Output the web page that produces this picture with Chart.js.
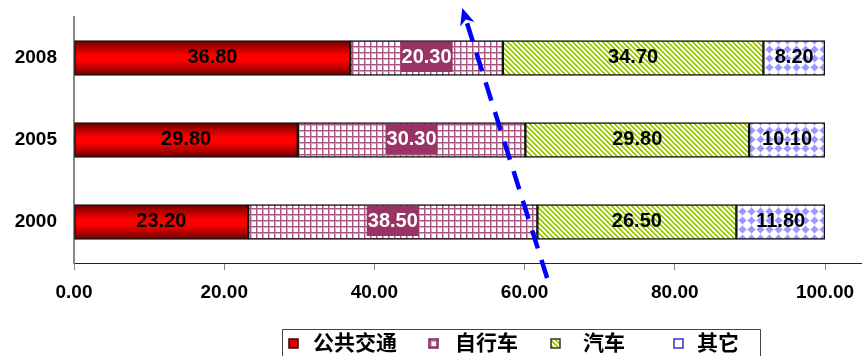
<!DOCTYPE html>
<html lang="zh">
<head>
<meta charset="UTF-8">
<title>出行方式构成</title>
<script src="https://cdn.jsdelivr.net/npm/chart.js@4"></script>
<style>
    html, body { margin: 0; padding: 0; background: #fff; }
    #wrap { width: 862px; height: 356px; position: relative; }
</style>
</head>
<body>
<div id="wrap"><canvas id="modeChart"></canvas></div>
<script>
// shares of each travel mode (%), one value per year
const years = ['2008', '2005', '2000'];
const modes = ['公共交通', '自行车', '汽车', '其它'];
const publicShare = [36.80, 29.80, 23.20];
const bikeShare = [20.30, 30.30, 38.50];
const carShare = [34.70, 29.80, 26.50];
const otherShare = [8.20, 10.10, 11.80];
const xTicks = [0, 20, 40, 60, 80, 100];

const NUM_FONT = '"Liberation Sans", Arial, sans-serif';
const CJK_FONT = '"Noto Sans CJK SC", "Noto Sans", sans-serif';
const BAR_H = 35;

// small pixel tiles used as fill patterns
function makeTile(size, paint) {
    const c = document.createElement('canvas');
    c.width = c.height = size;
    const g = c.getContext('2d');
    const img = g.createImageData(size, size);
    for (let y = 0; y < size; y++) {
        for (let x = 0; x < size; x++) {
            const rgb = paint(x, y);
            const i = (y * size + x) * 4;
            img.data[i] = rgb[0];
            img.data[i + 1] = rgb[1];
            img.data[i + 2] = rgb[2];
            img.data[i + 3] = 255;
        }
    }
    g.putImageData(img, 0, 0);
    return c;
}

const WHITE = [255, 255, 255];
const gridTile = makeTile(6, (x, y) => {
    if (x === 4 || y === 4) return [168, 86, 128];
    if (x === 5 || y === 5) return [218, 172, 196];
    return WHITE;
});
const stripeTile = makeTile(5, (x, y) => {
    const d = (x - y + 50) % 5;
    if (d < 2) return [153, 204, 0];
    if (d === 2) return [204, 229, 128];
    return WHITE;
});
const diamondTile = makeTile(9, (x, y) => {
    const d = Math.abs(x + 0.5 - 4.5) + Math.abs(y + 0.5 - 4.5);
    if (d < 4) return [153, 153, 255];
    if (d < 5) return [204, 204, 255];
    return WHITE;
});

const ctx = document.getElementById('modeChart').getContext('2d');
const gridFill = ctx.createPattern(gridTile, 'repeat');
const stripeFill = ctx.createPattern(stripeTile, 'repeat');
const diamondFill = ctx.createPattern(diamondTile, 'repeat');

// red bars get a dark-bright-dark vertical gradient
function redFill(context) {
    const chart = context.chart;
    const yScale = chart.scales.y;
    if (!yScale || context.dataIndex === undefined) return '#ff0000';
    const c = yScale.getPixelForValue(context.dataIndex);
    if (!Number.isFinite(c)) return '#ff0000';
    const g = chart.ctx.createLinearGradient(0, c - BAR_H / 2, 0, c + BAR_H / 2);
    g.addColorStop(0, '#6a0000');
    g.addColorStop(0.42, '#ff0000');
    g.addColorStop(0.58, '#ff0000');
    g.addColorStop(1, '#6a0000');
    return g;
}

// value text centred on each segment; bike values sit on a purple tag
const valueLabels = {
    id: 'valueLabels',
    afterDatasetsDraw(chart) {
        const c = chart.ctx;
        c.save();
        c.font = 'bold 20px ' + NUM_FONT;
        c.textAlign = 'center';
        c.textBaseline = 'middle';
        chart.data.datasets.forEach((ds, di) => {
            chart.getDatasetMeta(di).data.forEach((bar, i) => {
                const cx = (bar.x + bar.base) / 2;
                const cy = bar.y;
                const text = ds.data[i].toFixed(2);
                if (di === 1) {
                    const w = c.measureText(text).width + 2;
                    c.fillStyle = '#993366';
                    c.fillRect(cx - w / 2, cy - 16, w, 30);
                    c.fillStyle = '#ffffff';
                } else {
                    c.fillStyle = '#000000';
                }
                c.fillText(text, cx, cy - 1);
            });
        });
        c.restore();
    }
};

// boxed legend under the axis, plus the dashed trend arrow
const decorations = {
    id: 'decorations',
    afterDraw(chart) {
        const c = chart.ctx;
        const area = chart.chartArea;
        const xs = chart.scales.x;
        c.save();

        // axis line runs on to the edge
        c.strokeStyle = '#222';
        c.lineWidth = 1;
        c.beginPath();
        c.moveTo(area.right, area.bottom + 0.5);
        c.lineTo(chart.width, area.bottom + 0.5);
        c.stroke();

        // legend frame
        c.strokeStyle = '#444';
        c.beginPath();
        c.moveTo(282.5, chart.height + 2);
        c.lineTo(282.5, 329.5);
        c.lineTo(760.5, 329.5);
        c.lineTo(760.5, chart.height + 2);
        c.stroke();

        const swatchX = [289, 429, 551, 674];
        const textX = [313, 455, 583, 697];
        const fills = ['#e00000', gridFill, stripeFill, '#ffffff'];
        const edges = ['#400000', '#7a2050', '#333333', '#3333cc'];
        c.font = 'bold 21px ' + CJK_FONT;
        c.textBaseline = 'middle';
        c.textAlign = 'left';
        modes.forEach((m, i) => {
            c.fillStyle = fills[i];
            c.fillRect(swatchX[i], 339, 9, 9);
            c.strokeStyle = edges[i];
            c.lineWidth = 1.5;
            c.strokeRect(swatchX[i], 339, 9, 9);
            c.fillStyle = '#000';
            c.fillText(m, textX[i], 342);
        });

        // trend arrow
        const x0 = xs.getPixelForValue(63.0), y0 = area.bottom + 15;
        const x1 = xs.getPixelForValue(51.7), y1 = area.top - 9;
        const len = Math.hypot(x1 - x0, y1 - y0);
        const ux = (x1 - x0) / len, uy = (y1 - y0) / len;
        const px = -uy, py = ux;
        const head = 17, half = 7.5;
        c.strokeStyle = '#0000ff';
        c.fillStyle = '#0000ff';
        c.lineWidth = 4.5;
        c.setLineDash([19, 12]);
        c.beginPath();
        c.moveTo(x0, y0);
        c.lineTo(x1 - ux * (head - 4), y1 - uy * (head - 4));
        c.stroke();
        c.setLineDash([]);
        c.beginPath();
        c.moveTo(x1, y1);
        c.lineTo(x1 - ux * head + px * half, y1 - uy * head + py * half);
        c.lineTo(x1 - ux * (head - 5), y1 - uy * (head - 5));
        c.lineTo(x1 - ux * head - px * half, y1 - uy * head - py * half);
        c.closePath();
        c.fill();
        c.restore();
    }
};

const barStyle = {
    borderColor: '#111',
    borderWidth: 1.5,
    borderSkipped: false,
    barThickness: BAR_H
};

new Chart(ctx, {
    type: 'bar',
    data: {
        labels: years,
        datasets: [
            { label: modes[0], data: publicShare, backgroundColor: redFill, ...barStyle },
            { label: modes[1], data: bikeShare, backgroundColor: gridFill, ...barStyle },
            { label: modes[2], data: carShare, backgroundColor: stripeFill, ...barStyle },
            { label: modes[3], data: otherShare, backgroundColor: diamondFill, ...barStyle }
        ]
    },
    options: {
        indexAxis: 'y',
        responsive: true,
        maintainAspectRatio: false,
        animation: false,
        events: [],
        layout: { padding: { top: 17, right: 37, bottom: 0, left: 0 } },
        plugins: {
            legend: { display: false },
            tooltip: { enabled: false }
        },
        scales: {
            x: {
                stacked: true,
                min: 0,
                max: 100,
                afterBuildTicks: axis => { axis.ticks = xTicks.map(v => ({ value: v })); },
                afterFit: axis => {
                    axis.height = 93;
                    axis.paddingLeft = 0;
                    axis.paddingRight = 0;
                },
                grid: { drawOnChartArea: false, drawTicks: true, tickLength: 7, color: '#888' },
                border: { color: '#222', width: 1 },
                ticks: {
                    padding: 11,
                    color: '#000',
                    font: { family: NUM_FONT, size: 19, weight: 'bold' },
                    callback: v => v.toFixed(2)
                }
            },
            y: {
                stacked: true,
                afterFit: axis => {
                    axis.width = 74;
                    axis.paddingTop = 0;
                    axis.paddingBottom = 0;
                },
                grid: { display: false, drawTicks: false },
                border: { color: '#888', width: 2 },
                ticks: {
                    padding: 17,
                    color: '#000',
                    font: { family: NUM_FONT, size: 19, weight: 'bold' }
                }
            }
        }
    },
    plugins: [valueLabels, decorations]
});
</script>
</body>
</html>
